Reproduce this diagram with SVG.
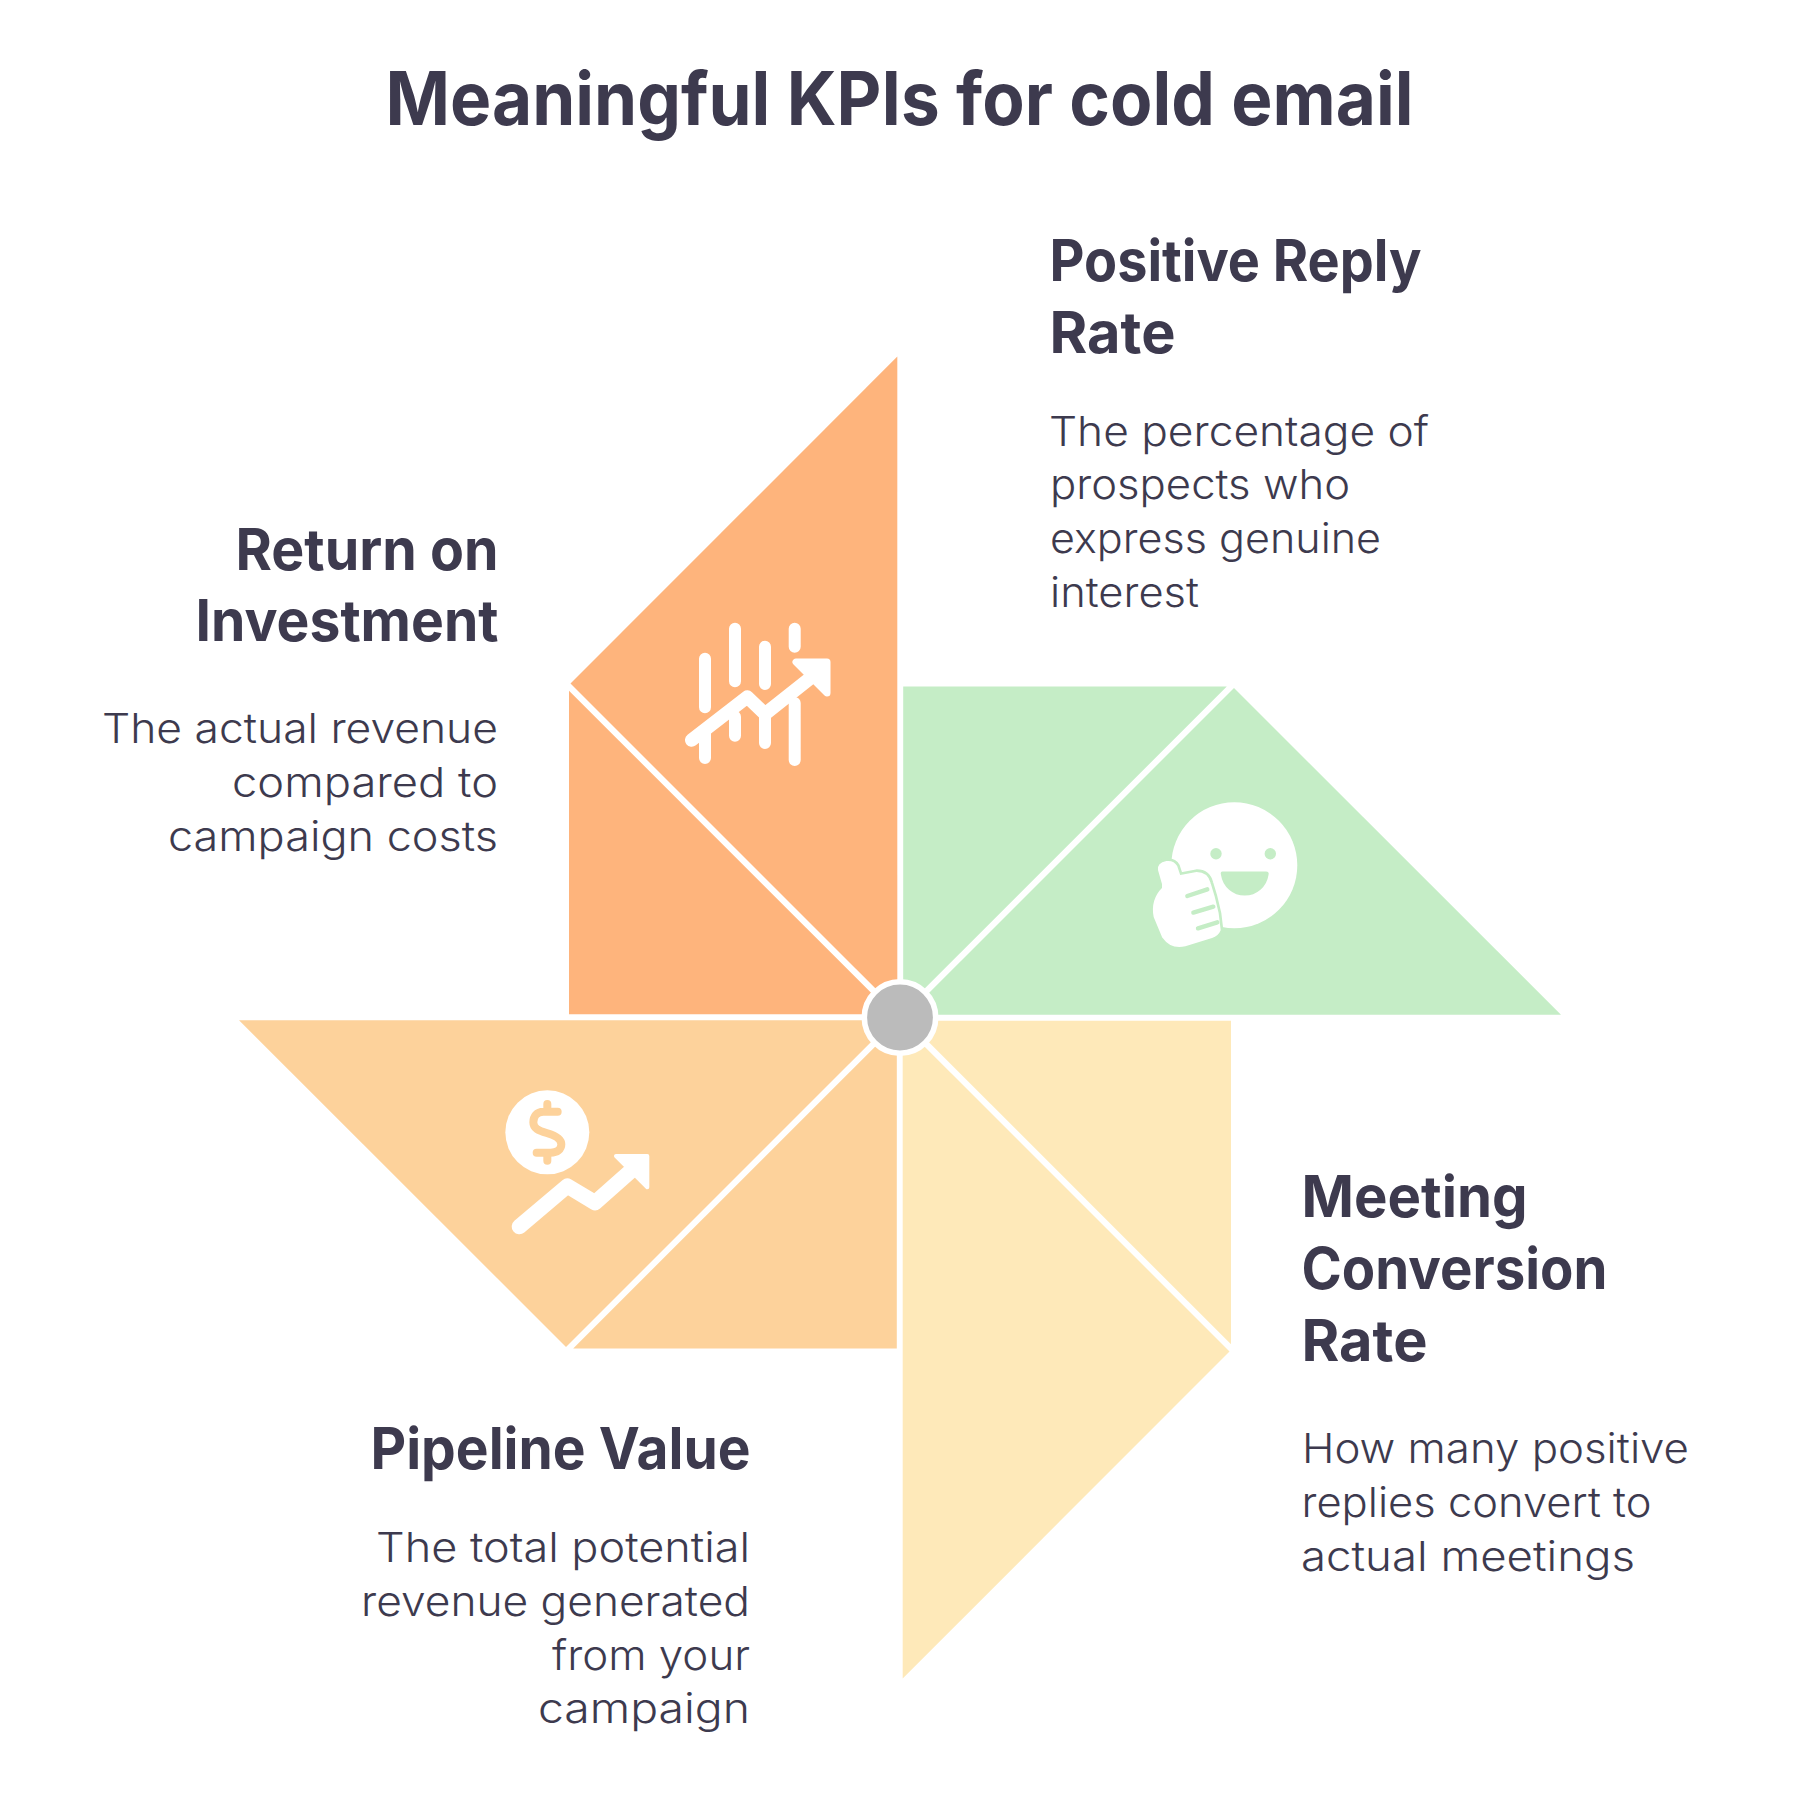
<svg xmlns="http://www.w3.org/2000/svg" width="1800" height="1809" viewBox="0 0 1800 1809">
<style>
text{font-family:"Inter","Liberation Sans",sans-serif;fill:#3d3a4e}
.title{font-size:74px;font-weight:650}
.h{font-size:57.5px;font-weight:650}
.b{font-size:41px;font-weight:350}
.e{text-anchor:end}
.w{stroke:#fff;fill:none;stroke-linecap:round;stroke-linejoin:round}
</style>
<rect width="1800" height="1809" fill="#fff"/>
<text id="title" class="title" x="385.5" y="124.5" textLength="1028" lengthAdjust="spacingAndGlyphs">Meaningful KPIs for cold email</text>

<g id="kpi-roi">
<polygon fill="#feb47c" points="897.3,356.5 570.5,683.5 897.3,1010.3"/>
<polygon fill="#feb47c" points="569,690.7 569,1014.3 892.6,1014.3"/>
<g class="w" stroke-width="12">
<path d="M705 658.7V707.3M705 733V758M735 628.7V681.3M735 716.7V735.7M765 646.7V684M765 716.7V743M794.7 628.7V646.7M794.7 703V760"/>
<path stroke-width="13.5" d="M691.7 740L747.3 697L765 714L816.7 673"/>
</g>
<polygon points="796,662 827,662 827,693" fill="#fff" stroke="#fff" stroke-width="7" stroke-linejoin="round"/>
<text class="h e" x="498.5" y="569.8" textLength="263" lengthAdjust="spacingAndGlyphs">Return on</text>
<text class="h e" x="498.5" y="641.2" textLength="303" lengthAdjust="spacingAndGlyphs">Investment</text>
<text class="b e" x="498" y="743.3" textLength="396" lengthAdjust="spacingAndGlyphs">The actual revenue</text>
<text class="b e" x="498" y="796.7" textLength="266" lengthAdjust="spacingAndGlyphs">compared to</text>
<text class="b e" x="498" y="851" textLength="330" lengthAdjust="spacingAndGlyphs">campaign costs</text>
</g>

<g id="kpi-positive-reply">
<polygon fill="#c5edc6" points="1561,1014.8 1234,688 907.2,1014.8"/>
<polygon fill="#c5edc6" points="1226.8,686.5 903.2,686.5 903.2,1010.1"/>
<circle cx="1234.3" cy="865.3" r="63" fill="#fff"/>
<circle cx="1216" cy="853.7" r="5.7" fill="#c5edc6"/>
<circle cx="1270.3" cy="853.7" r="5.7" fill="#c5edc6"/>
<path d="M1222.5 871.5H1266Q1269.5 871.5 1268.5 875A24 24 0 0 1 1221 875Q1220 871.5 1222.5 871.5Z" fill="#c5edc6"/>
<g transform="translate(1100,760) scale(.3333)">
<path d="M190 372L178 330Q175 312 200 307Q220 305 228 320L238 350L290 340Q320 340 328 370L340 410L352 460L358 510Q352 525 335 530L255 555Q215 565 190 530L165 470Q155 420 190 385Z" fill="#c5edc6" stroke="#c5edc6" stroke-width="24" stroke-linejoin="round"/>
<path d="M190 372L178 330Q175 312 200 307Q220 305 228 320L238 350L290 340Q320 340 328 370L340 410L352 460L358 510Q352 525 335 530L255 555Q215 565 190 530L165 470Q155 420 190 385Z" fill="#fff" stroke="#fff" stroke-width="8" stroke-linejoin="round"/>
<path d="M262 408L322 388M280 458L340 440M294 505L352 487" stroke="#c5edc6" stroke-width="13" stroke-linecap="round" fill="none"/>
</g>
<text class="h" x="1049.5" y="281.3" textLength="372" lengthAdjust="spacingAndGlyphs">Positive Reply</text>
<text class="h" x="1049.5" y="353" textLength="126" lengthAdjust="spacingAndGlyphs">Rate</text>
<text class="b" x="1049" y="445.5" textLength="380" lengthAdjust="spacingAndGlyphs">The percentage of</text>
<text class="b" x="1050" y="499.3" textLength="300" lengthAdjust="spacingAndGlyphs">prospects who</text>
<text class="b" x="1050" y="553.3" textLength="331" lengthAdjust="spacingAndGlyphs">express genuine</text>
<text class="b" x="1050" y="607.3" textLength="149" lengthAdjust="spacingAndGlyphs">interest</text>
</g>

<g id="kpi-meeting-conversion">
<polygon fill="#fee9b9" points="902.7,1678.5 1229.5,1351.5 902.7,1024.7"/>
<polygon fill="#fee9b9" points="1231,1344.3 1231,1020.7 907.4,1020.7"/>
<text class="h" x="1301.5" y="1217" textLength="226" lengthAdjust="spacingAndGlyphs">Meeting</text>
<text class="h" x="1301.5" y="1288.8" textLength="306" lengthAdjust="spacingAndGlyphs">Conversion</text>
<text class="h" x="1301.5" y="1360.8" textLength="126" lengthAdjust="spacingAndGlyphs">Rate</text>
<text class="b" x="1302" y="1463" textLength="387" lengthAdjust="spacingAndGlyphs">How many positive</text>
<text class="b" x="1301.5" y="1517" textLength="350" lengthAdjust="spacingAndGlyphs">replies convert to</text>
<text class="b" x="1301" y="1571" textLength="334" lengthAdjust="spacingAndGlyphs">actual meetings</text>
</g>

<g id="kpi-pipeline">
<polygon fill="#fdd29b" points="239,1020.2 566,1347 892.8,1020.2"/>
<polygon fill="#fdd29b" points="573.2,1348.5 896.8,1348.5 896.8,1024.9"/>
<g transform="translate(480,1060) scale(.3333)">
<circle cx="202" cy="217" r="126" fill="#fff"/>
<path d="M233 155H190C170 155 160 170 160 187C160 205 175 212 200 219C225 226 244 235 244 253C244 268 232 278 212 278H170M202 132V152M202 282V302" fill="none" stroke="#fdd29b" stroke-width="24" stroke-linecap="round"/>
<path d="M118 500L262 378L345 428L450 335" fill="none" stroke="#fff" stroke-width="46" stroke-linecap="round" stroke-linejoin="round"/>
<polygon points="408,288 502,288 502,382" fill="#fff" stroke="#fff" stroke-width="12" stroke-linejoin="round"/>
</g>
<text class="h e" x="750.5" y="1469.3" textLength="380" lengthAdjust="spacingAndGlyphs">Pipeline Value</text>
<text class="b e" x="750" y="1561.7" textLength="374" lengthAdjust="spacingAndGlyphs">The total potential</text>
<text class="b e" x="750" y="1616" textLength="389" lengthAdjust="spacingAndGlyphs">revenue generated</text>
<text class="b e" x="750" y="1670" textLength="198" lengthAdjust="spacingAndGlyphs">from your</text>
<text class="b e" x="750" y="1723.3" textLength="212" lengthAdjust="spacingAndGlyphs">campaign</text>
</g>

<g id="hub"><circle cx="900" cy="1017.5" r="35.7" fill="#bbb" stroke="#fff" stroke-width="5.6"/></g>
</svg>
